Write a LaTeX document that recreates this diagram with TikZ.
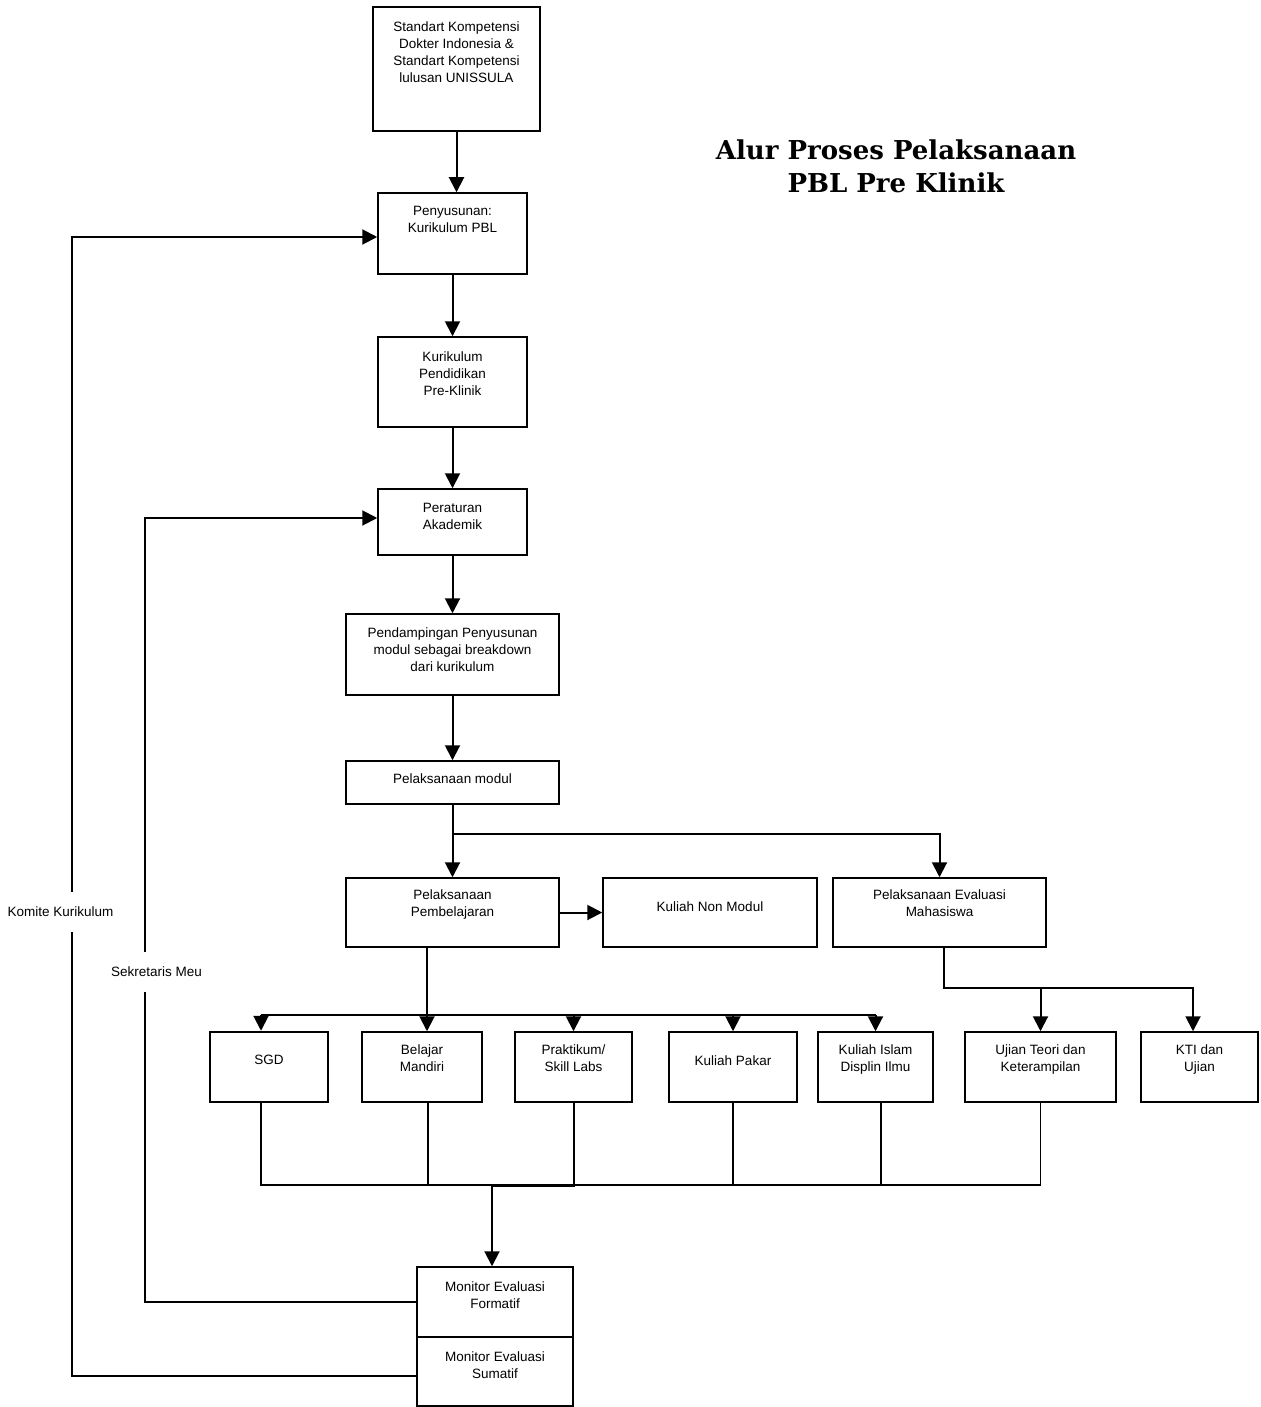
\documentclass[tikz,border=0pt]{standalone}
\usepackage{fontspec}
\setmainfont{Liberation Sans}
\newfontfamily\titlefont{DejaVu Serif}
\usepackage{tikz}
\usetikzlibrary{arrows.meta,positioning}

\begin{document}
\begin{tikzpicture}[
    x=1pt, y=-1pt,
    box/.style={draw,line width=1.5pt,inner sep=0pt},
    txt/.style={align=center,inner sep=0pt,font=\fontsize{13.5}{17}\selectfont},
    arr/.style={-{Triangle[length=15pt,width=15pt]},line width=2pt},
    bus/.style={line width=1.5pt},
    lbl/.style={fill=white,inner xsep=1pt,inner ysep=15pt,font=\fontsize{13.5}{17}\selectfont},
    title/.style={align=center,inner sep=0pt,font=\titlefont\bfseries\fontsize{26}{33}\selectfont}
]
\useasboundingbox (0,0) rectangle (1260,1407);

% title
\node[title] (ttl) at (896,166) {Alur Proses Pelaksanaan\\PBL Pre Klinik};

% main column
\node[box,minimum width=167pt,minimum height=124pt] (std) at (456.5,69) {};
\node[txt,below=15pt of std.north] (stdt) {Standart Kompetensi\\Dokter Indonesia \&\\Standart Kompetensi\\lulusan UNISSULA};
\node[box,minimum width=149pt,minimum height=81pt] (pen) at (452.5,233.5) {};
\node[txt,below=14pt of pen.north] (pent) {Penyusunan:\\Kurikulum PBL};
\node[box,minimum width=149pt,minimum height=90pt] (kpk) at (452.5,382) {};
\node[txt,below=15pt of kpk.north] (kpkt) {Kurikulum\\Pendidikan\\Pre-Klinik};
\node[box,minimum width=149pt,minimum height=66pt] (pa) at (452.5,522) {};
\node[txt,below=15pt of pa.north] (pat) {Peraturan\\Akademik};
\node[box,minimum width=213pt,minimum height=81pt] (pdm) at (452.5,654.5) {};
\node[txt,below=14pt of pdm.north] (pdmt) {Pendampingan Penyusunan\\modul sebagai breakdown\\dari kurikulum};
\node[box,minimum width=213pt,minimum height=43pt] (pm) at (452.5,782.5) {};
\node[txt,below=13pt of pm.north] (pmt) {Pelaksanaan modul};

% second level
\node[box,minimum width=213pt,minimum height=69pt] (pp) at (452.5,912.5) {};
\node[txt,below=12pt of pp.north] (ppt) {Pelaksanaan\\Pembelajaran};
\node[box,minimum width=214pt,minimum height=69pt] (knm) at (710,912.5) {};
\node[txt,below=24pt of knm.north] (knmt) {Kuliah Non Modul};
\node[box,minimum width=213pt,minimum height=69pt] (pem) at (939.5,912.5) {};
\node[txt,below=12pt of pem.north] (pemt) {Pelaksanaan Evaluasi\\Mahasiswa};

% activities
\node[box,line width=2.5pt,minimum width=118pt,minimum height=70pt] (sgd) at (269,1067) {};
\node[txt,below=24pt of sgd.north] (sgdt) {SGD};
\node[box,minimum width=120pt,minimum height=70pt] (bm) at (422,1067) {};
\node[txt,below=13pt of bm.north] (bmt) {Belajar\\Mandiri};
\node[box,minimum width=117pt,minimum height=70pt] (pr) at (573.5,1067) {};
\node[txt,below=13pt of pr.north] (prt) {Praktikum/\\Skill Labs};
\node[box,minimum width=128pt,minimum height=70pt] (kp) at (733,1067) {};
\node[txt,below=24pt of kp.north] (kpt) {Kuliah Pakar};
\node[box,minimum width=115pt,minimum height=70pt] (ki) at (875.5,1067) {};
\node[txt,below=13pt of ki.north] (kit) {Kuliah Islam\\Displin Ilmu};
\node[box,minimum width=151pt,minimum height=70pt] (ut) at (1040.5,1067) {};
\node[txt,below=13pt of ut.north] (utt) {Ujian Teori dan\\Keterampilan};
\node[box,minimum width=117pt,minimum height=70pt] (kti) at (1199.5,1067) {};
\node[txt,below=13pt of kti.north] (ktit) {KTI dan\\Ujian};

% monitoring
\node[box,minimum width=156pt,minimum height=70pt] (mf) at (495,1302) {};
\node[txt,below=15pt of mf.north] (mft) {Monitor Evaluasi\\Formatif};
\node[box,minimum width=156pt,minimum height=69pt] (ms) at (495,1371.5) {};
\node[txt,below=15pt of ms.north] (mst) {Monitor Evaluasi\\Sumatif};

% helper points
\coordinate (split) at (452.5,834);
\coordinate (rowL) at (261,1015);
\coordinate (rowM) at (427,1015);
\coordinate (rowR) at (875.5,1015);
\coordinate (evL) at (944,988);
\coordinate (evR) at (1193,988);
\coordinate (busL) at (261,1185);
\coordinate (busR) at (1040.5,1185);
\coordinate (drop) at (492,1186);
\coordinate (kk) at (72,237);
\coordinate (sk) at (145,518);

% arrows down the column
\draw[arr] (std.south) -- (std.south |- pen.north);
\draw[arr] (pen.south) -- (kpk.north);
\draw[arr] (kpk.south) -- (pa.north);
\draw[arr] (pa.south) -- (pdm.north);
\draw[arr] (pdm.south) -- (pm.north);
\draw[arr] (pm.south) -- (pp.north);
\draw[arr] (split) -| (pem.north);
\draw[arr] (pp.east) -- (knm.west);

% to activities
\draw[arr] (rowM |- pp.south) -- (rowM |- bm.north);
\draw[line width=2pt] (rowL) -- (rowR);
\draw[arr] (rowL) -- (rowL |- sgd.north);
\draw[arr] (rowL -| pr.north) -- (pr.north);
\draw[arr] (rowL -| kp.north) -- (kp.north);
\draw[arr] (rowR) -- (ki.north);
\draw[arr] (evL |- pem.south) |- (evR) -- (evR |- kti.north);
\draw[arr] (evL -| ut.north) -- (ut.north);

% collecting to monitor
\draw[bus] (busL |- sgd.south) -- (busL) -- (busR) -- (ut.south);
\draw[bus] ([xshift=6pt]bm.south) -- ([xshift=6pt]bm.south |- busL);
\draw[bus] (kp.south) -- (kp.south |- busL);
\draw[bus] ([xshift=5.5pt]ki.south) -- ([xshift=5.5pt]ki.south |- busL);
\draw[arr] (pr.south) |- (drop) -- (drop |- mf.north);

% feedback loops
\draw[arr] ([yshift=-4pt]ms.west) -| (kk) -- (kk -| pen.west);
\draw[arr] (mf.west) -| (sk) -- (sk -| pa.west);
\node[lbl] (komite) at (60.5,912) {Komite Kurikulum};
\node[lbl] (sekre) at (156.5,972) {Sekretaris Meu};
\end{tikzpicture}
\end{document}
